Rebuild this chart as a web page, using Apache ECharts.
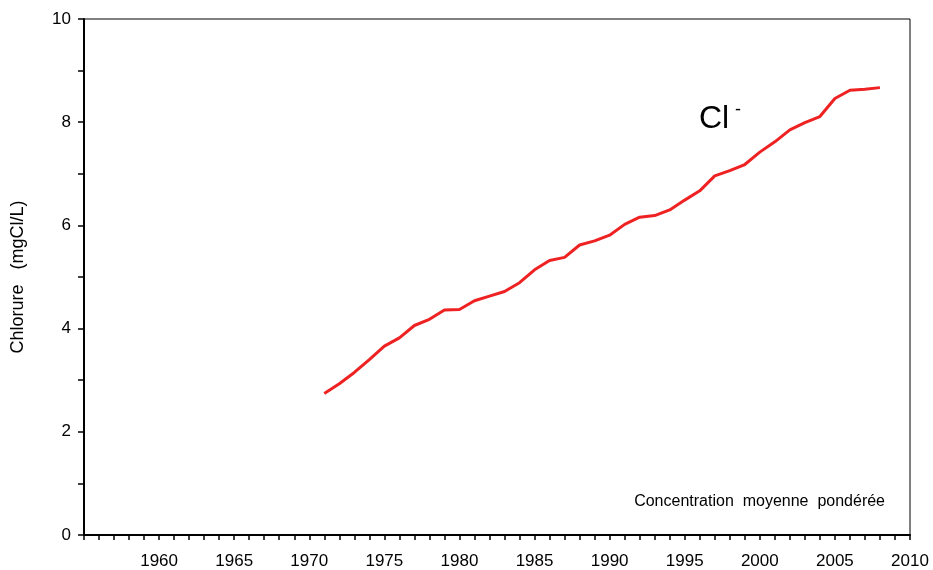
<!DOCTYPE html>
<html>
<head>
<meta charset="utf-8">
<script src="https://cdn.jsdelivr.net/npm/echarts@6/dist/echarts.min.js"></script>
<style>
  html, body { margin: 0; padding: 0; background: #fff; }
  #chart { width: 933px; height: 570px; }
</style>
</head>
<body>
<div id="chart"></div>
<script>
// Annual mean weighted chloride concentration
const years = [1971, 1972, 1973, 1974, 1975, 1976, 1977, 1978, 1979, 1980,
  1981, 1982, 1983, 1984, 1985, 1986, 1987, 1988, 1989, 1990,
  1991, 1992, 1993, 1994, 1995, 1996, 1997, 1998, 1999, 2000,
  2001, 2002, 2003, 2004, 2005, 2006, 2007, 2008];
const chloride = [2.74, 2.93, 3.15, 3.40, 3.66, 3.82, 4.06, 4.18, 4.36, 4.37,
  4.54, 4.63, 4.72, 4.89, 5.14, 5.32, 5.38, 5.62, 5.70, 5.81,
  6.02, 6.16, 6.19, 6.30, 6.49, 6.67, 6.96, 7.06, 7.18, 7.42,
  7.62, 7.85, 7.99, 8.11, 8.46, 8.62, 8.64, 8.67];
const yTicks = [0, 2, 4, 6, 8, 10];
const xTickYears = [1960, 1965, 1970, 1975, 1980, 1985, 1990, 1995, 2000, 2005, 2010];

const font = 'Liberation Sans, Arial, sans-serif';
const chart = echarts.init(document.getElementById('chart'), null, { renderer: 'canvas' });

chart.setOption({
  animation: false,
  backgroundColor: '#ffffff',
  grid: {
    left: 84, right: 23, top: 19, bottom: 35,
    containLabel: false, outerBoundsMode: 'none',
    show: true, borderColor: '#000', borderWidth: 1, backgroundColor: 'transparent'
  },
  xAxis: {
    type: 'value',
    min: 1955, max: 2010, interval: 5,
    axisLine: { show: true, lineStyle: { color: '#000', width: 2 } },
    axisTick: { show: true, inside: false, length: 5, lineStyle: { color: '#000', width: 1.5 } },
    minorTick: { show: true, splitNumber: 5, length: 5, lineStyle: { color: '#000', width: 1.5 } },
    splitLine: { show: false },
    axisLabel: {
      margin: 18, color: '#000', fontFamily: font, fontSize: 17,
      formatter: v => (xTickYears.indexOf(v) >= 0 ? String(v) : '')
    }
  },
  yAxis: {
    type: 'value',
    min: 0, max: 10, interval: 2,
    name: 'Chlorure   (mgCl/L)',
    nameLocation: 'middle', nameGap: 57, nameRotate: 90,
    nameTextStyle: { color: '#000', fontFamily: font, fontSize: 18 },
    axisLine: { show: true, lineStyle: { color: '#000', width: 2 } },
    axisTick: { show: true, inside: false, length: 6, lineStyle: { color: '#000', width: 1.5 } },
    minorTick: { show: true, splitNumber: 2, length: 6, lineStyle: { color: '#000', width: 1.5 } },
    splitLine: { show: false },
    axisLabel: {
      margin: 13, color: '#000', fontFamily: font, fontSize: 17,
      formatter: v => (yTicks.indexOf(v) >= 0 ? String(v) : '')
    }
  },
  series: [{
    type: 'line',
    data: years.map((y, i) => [y, chloride[i]]),
    showSymbol: false,
    lineStyle: { color: '#ee2222', width: 3 },
    z: 3
  }],
  graphic: [
    {
      type: 'text', left: 699, top: 103,
      style: { text: 'Cl', fill: '#000', font: '32px ' + font }
    },
    {
      type: 'text', left: 735, top: 101,
      style: { text: '-', fill: '#000', font: '18px ' + font }
    },
    {
      type: 'text', right: 48, top: 494,
      style: { text: 'Concentration  moyenne  pondérée', fill: '#000', font: '16px ' + font }
    }
  ]
});
</script>
</body>
</html>
